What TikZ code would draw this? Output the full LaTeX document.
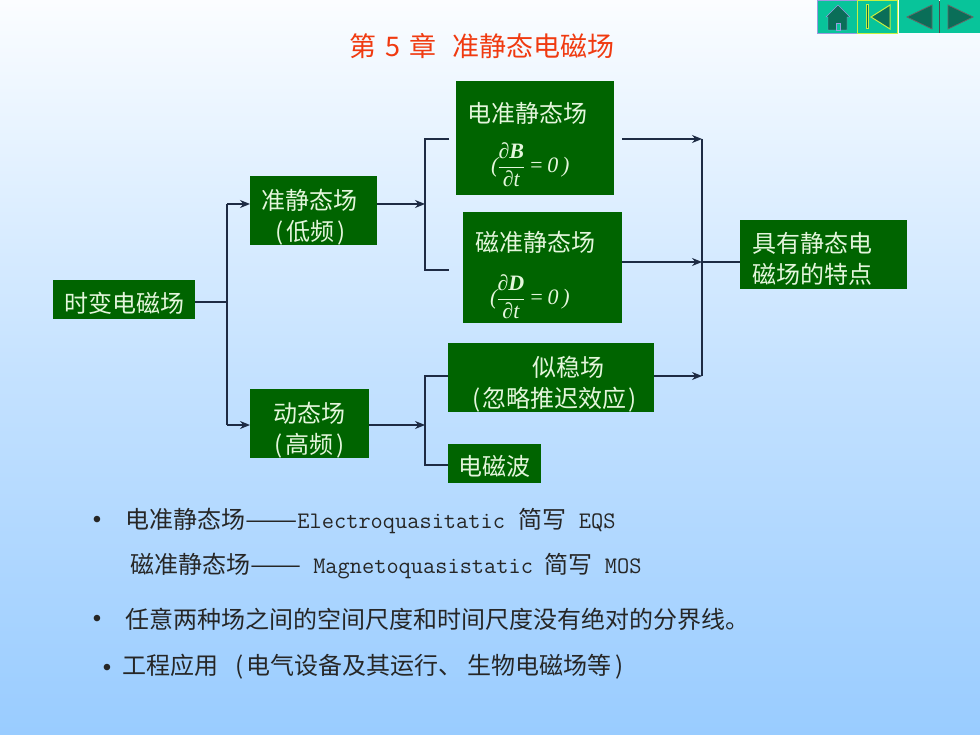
\documentclass[tikz,border=0pt]{standalone}
\usepackage{amsmath}
\usepackage{fontspec}
\setmainfont{Noto Sans CJK SC}
\newfontfamily\itfont{Liberation Serif}
\newfontfamily\dotfont{Liberation Sans}
\usetikzlibrary{arrows.meta}
\definecolor{fieldgreen}{HTML}{006400}
\definecolor{fieldtext}{HTML}{E4F6DC}
\definecolor{titlered}{HTML}{F03A10}
\definecolor{wirecol}{HTML}{1E2B44}
\definecolor{navteal}{HTML}{08C49A}
\definecolor{navdark}{HTML}{0A6E58}
\definecolor{navedge}{HTML}{9A9AE0}
\definecolor{navyellow}{HTML}{C8F040}
\definecolor{skytop}{HTML}{FBFDFF}
\definecolor{skybottom}{HTML}{99CCFF}
\newcommand{\zihao}[2]{\fontsize{#1}{#2}\selectfont}
\newcommand{\ratio}[1]{{\zihao{22}{26}\itfont\itshape$\text{(}\hspace{-1pt}\dfrac{\text{∂\textbf{#1}}}{\text{∂t}}\text{\,=\,0\,)}$}}
\newcommand{\lowerby}[1]{\rule{0pt}{\dimexpr 21pt+2\dimexpr #1\relax\relax}}
\newcommand{\longdash}[1]{\scalebox{#1}[1]{——}}
\newcommand{\latintext}[1]{\texttt{\zihao{23.7}{28}#1}}

\begin{document}
\begin{tikzpicture}[x=1pt,y=-1pt,
	fieldbox/.style={fill=fieldgreen,text=fieldtext,inner sep=0pt,font=\zihao{24}{31},align=center},
	formbox/.style={fieldbox,align=left},
	wire/.style={draw=wirecol,line width=1.3pt},
	arrowwire/.style={wire,-{Stealth[length=10pt,width=8pt]}},
	bodytext/.style={anchor=west,inner sep=0pt,text=black!85,font=\zihao{24}{28}},
	bulletdot/.style={inner sep=0pt,text=black!85,font=\zihao{24}{28}\dotfont},
	navbtn/.style={fill=navteal,inner sep=0pt,minimum width=40pt,minimum height=33pt},
	navmark/.style={fill=navdark,draw=black!60,line width=0.8pt}]

	\useasboundingbox (0,0) rectangle (980,735);
	\fill[top color=skytop,bottom color=skybottom,middle color=skybottom!55!skytop] (0,0) rectangle (980,735);

	% toolbar
	\node[navbtn,draw=navedge] (navhome) at (837,17) {};
	\node[navbtn,draw=navyellow,line width=1pt] (navfirst) at (877,17) {};
	\node[navbtn] (navprev) at (919,17) {};
	\node[navbtn] (navnext) at (960,17) {};
	\draw[fill=navdark,draw=navedge] (838,5) -- (850,17) -- (847,17) -- (847,30) -- (828,30) -- (828,17) -- (826,17) -- cycle;
	\draw[fill=navteal,draw=navedge] (836,30) rectangle (840,23);
	\draw[fill=navdark,draw=navyellow,line width=1pt] (866,5) rectangle (868,29);
	\draw[fill=navdark,draw=navyellow,line width=1pt] (890,5) -- (890,29) -- (871,17) -- cycle;
	\draw[navmark] (932,5) -- (932,29) -- (907,17) -- cycle;
	\draw[navmark] (948,5) -- (948,29) -- (973,17) -- cycle;
	\draw[black!70,line width=1pt] (939.5,1) -- (939.5,33);

	\node[anchor=west,inner sep=0pt,text=titlered,font=\zihao{27}{30}] (chaptitle) at (349,46) {第\hspace{9pt}5\hspace{9pt}章\hspace{16pt}准静态电磁场};

	% boxes
	\node[fieldbox,minimum width=142pt,minimum height=39pt] (timevar) at (124,299.5) {\lowerby{3pt}时变电磁场};
	\node[formbox,minimum width=127pt,minimum height=69pt,text width=105pt] (quasi) at (313.5,210.5) {\lowerby{6pt}准静态场\\\hspace*{14pt}(\hspace{3pt}低频\hspace{3pt})};
	\node[fieldbox,minimum width=119pt,minimum height=69pt] (dynamic) at (309.5,423.5) {\lowerby{6pt}动态场\\(\hspace{3pt}高频\hspace{3pt})};
	\node[formbox,minimum width=158pt,minimum height=114pt,text width=136pt] (eqs) at (535,138) {\lowerby{6pt}电准静态场\\[17pt]\hspace*{24pt}\ratio{B}};
	\node[formbox,minimum width=159pt,minimum height=111pt,text width=135pt] (mqs) at (542.5,267.5) {\lowerby{7pt}磁准静态场\\[20pt]\hspace*{15pt}\ratio{D}};
	\node[formbox,minimum width=206pt,minimum height=69pt,text width=186pt] (slowfield) at (551,377.5) {\lowerby{6pt}\hspace*{74pt}似稳场\\\hspace*{14pt}(\hspace{2pt}忽略推迟效应\hspace{2pt})};
	\node[fieldbox,minimum width=93pt,minimum height=39pt] (emwave) at (494.5,463.5) {\lowerby{2pt}电磁波};
	\node[formbox,minimum width=167pt,minimum height=69pt,text width=143pt] (feature) at (823.5,254.5) {\lowerby{4pt}具有静态电\\磁场的特点};

	% junctions
	\coordinate (timebus) at (227,302);
	\coordinate (quasiin) at (250,204);
	\coordinate (dynin) at (250,425);
	\coordinate (upbus) at (425,204);
	\coordinate (lowbus) at (425,425);
	\coordinate (eqsin) at (449,139);
	\coordinate (mqsin) at (449,270);
	\coordinate (eqsout) at (622,139);
	\coordinate (mqsout) at (622,262);
	\coordinate (slowin) at (448,376);
	\coordinate (slowout) at (654,376);
	\coordinate (waveinl) at (448,465);
	\coordinate (rightbus) at (702,262);

	\draw[wire] (timevar.east |- timebus) -- (timebus);
	\draw[wire] (timebus |- quasiin) -- (timebus |- dynin);
	\draw[arrowwire] (timebus |- quasiin) -- (quasiin);
	\draw[arrowwire] (timebus |- dynin) -- (dynin);
	\draw[arrowwire] (quasi.east |- upbus) -- (upbus);
	\draw[arrowwire] (dynamic.east |- lowbus) -- (lowbus);
	\draw[wire] (eqsin) -- (upbus |- eqsin) -- (upbus |- mqsin) -- (mqsin);
	\draw[wire] (slowin) -- (lowbus |- slowin) -- (lowbus |- waveinl) -- (waveinl);
	\draw[arrowwire] (eqsout) -- (rightbus |- eqsout);
	\draw[arrowwire] (mqsout) -- (rightbus);
	\draw[arrowwire] (slowout) -- (rightbus |- slowout);
	\draw[wire] (rightbus |- eqsout) -- (rightbus |- slowout);
	\draw[wire] (rightbus) -- (feature.west |- rightbus);

	% notes
	\node[bulletdot] (dotone) at (97,522) {•};
	\node[bodytext] (noteeqs) at (125,521) {电准静态场\longdash{1.3}\latintext{Electroquasitatic}\hspace{14pt}简写\hspace{12pt}\latintext{EQS}};
	\node[bodytext] (notemqs) at (130,566) {磁准静态场\longdash{1.27}\hspace{12pt}\latintext{Magnetoquasistatic}\hspace{12pt}简写\hspace{12pt}\latintext{MOS}};
	\node[bulletdot] (dottwo) at (97,621) {•};
	\node[bodytext] (notescale) at (125,619) {任意两种场之间的空间尺度和时间尺度没有绝对的分界线。};
	\node[bulletdot] (dotthree) at (107,670) {•};
	\node[bodytext] (noteuse) at (122,667) {工程应用\hspace{17pt}(\hspace{3pt}电气设备及其运行、\hspace{5pt}生物电磁场等\hspace{4pt})};

\end{tikzpicture}
\end{document}
